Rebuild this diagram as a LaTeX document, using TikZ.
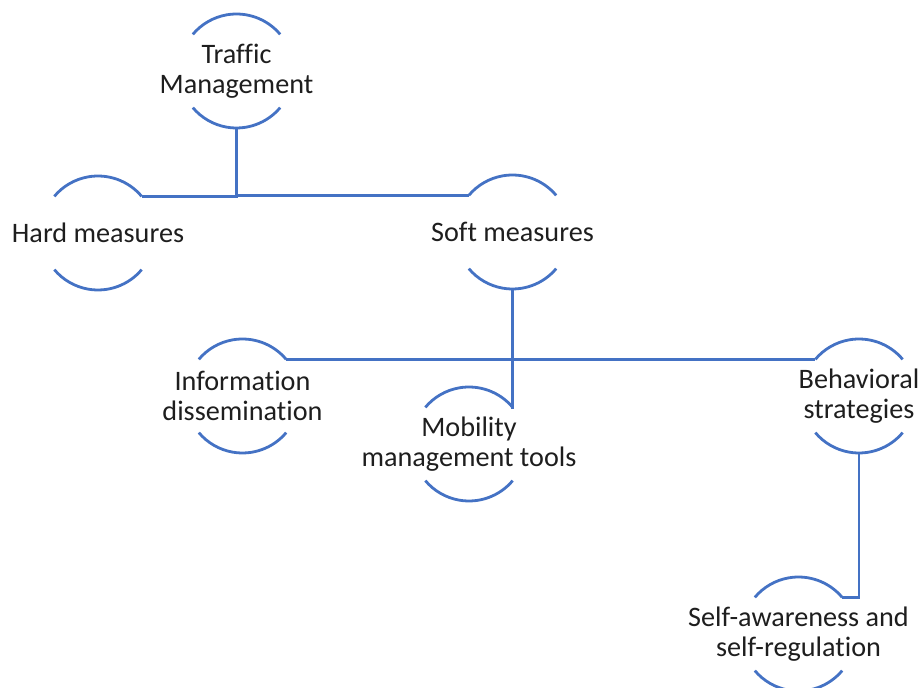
\documentclass[tikz,border=0pt]{standalone}
\usepackage{fontspec}
\setmainfont{Carlito}[Ligatures=NoCommon]
\definecolor{hblue}{RGB}{68,114,196}
\definecolor{htext}{RGB}{30,30,30}
\def\r{28.5pt}
\tikzset{
  bub/.style={circle, minimum size=57pt, inner sep=0pt, outer sep=0pt},
  lbl/.style={align=center, text=htext, font=\fontsize{14.1pt}{15pt}\selectfont},
  ln/.style={hblue, line width=1.4pt},
}
\begin{document}
\begin{tikzpicture}[x=0.5pt, y=-0.5pt]
	\useasboundingbox (0,0) rectangle (921,688);
	% circles, text in the middle
	\node[bub, label={[lbl]center:{Traffic\\Management}}] (tm) at (236.5,71) {};
	\node[bub, label={[lbl]center:{Hard measures}}] (hm) at (98,233) {};
	\node[bub, label={[lbl]center:{Soft measures}}] (sm) at (512.5,232) {};
	\node[bub, label={[lbl]center:{Information\\dissemination}}] (id) at (242.5,396) {};
	\node[bub, label={[lbl]center:{Mobility\\management tools}}] (mt) at (469,444) {};
	\node[bub, label={[lbl]center:{Behavioral\\strategies}}] (bs) at (859,396) {};
	\node[bub, label={[lbl]center:{Self-awareness and\\self-regulation}}] (sa) at (798.5,634) {};
	% top and bottom arcs
	\foreach \n in {tm,hm,sm,id,mt,bs,sa} {
		\draw[ln] (\n.40) arc (40:140:\r);
		\draw[ln] (\n.-40) arc (-40:-140:\r);
	}
	% connectors
	\draw[ln] (tm.south) |- (hm.40);
	\draw[ln] (tm.south) |- (sm.140);
	\draw[ln] (sm.south) |- (id.40);
	\draw[ln] (sm.south) |- (bs.140);
	\draw[ln] (sm.south) |- (mt.40);
	\draw[ln] (bs.south) |- (sa.40);
\end{tikzpicture}
\end{document}
